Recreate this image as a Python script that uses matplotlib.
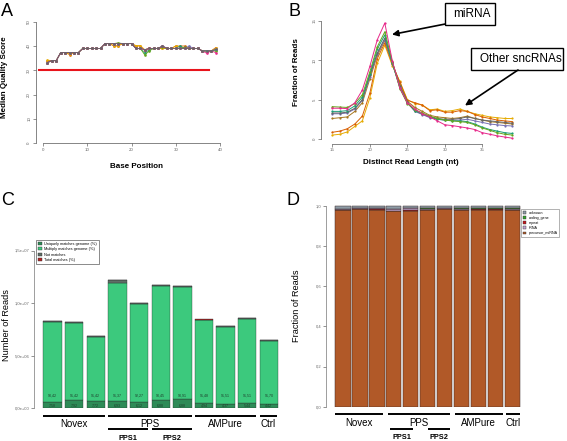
import matplotlib
matplotlib.use('Agg')
import numpy as np
import matplotlib.pyplot as plt
from matplotlib.patches import Patch, Rectangle, FancyArrowPatch
import matplotlib.transforms as mtrans

plt.rcParams['font.family'] = ['Liberation Sans', 'DejaVu Sans']

# ---------------- data ----------------
# Panel A: median quality score per base position
base_pos = list(range(1, 40))
qa_orange = [34, 34, 34, 37.3, 37.3, 36.5, 37.3, 37.3, 39, 39, 39, 39, 39, 41, 41, 40, 40, 41, 41, 41,
             40, 40, 38, 39, 39, 39, 39, 39, 39, 40, 40, 40, 39, 39, 39, 38, 38, 38, 39.3]
qa_gold = [34.2, 34, 34, 37.3, 37.3, 36.7, 37.3, 37.3, 39, 39, 39, 39, 39, 41, 41, 40.2, 40.2, 41, 41, 41,
           40.2, 40.2, 38.5, 39, 39, 39, 39, 39, 39, 40, 39.5, 39, 39, 39, 39, 38, 38, 38, 39]
qa_green = [33.2, 34, 34, 37.3, 37.3, 37.3, 37.3, 37.3, 39, 39, 39, 39, 39, 41, 41, 41, 41.3, 41, 41, 41,
            39, 39, 36.3, 38, 39, 39, 39.5, 39, 39, 39, 39, 39.5, 39, 39, 39, 38, 38, 38, 38]
qa_teal = [33.2, 34, 34, 37.3, 37.3, 37.3, 37.3, 37.3, 39, 39, 39, 39, 39, 41, 41, 41, 41, 41, 41, 41,
           39, 39, 37, 38.5, 39, 39, 40, 39, 39, 39, 40, 39, 39, 39, 39, 38, 38, 38, 38.3]
qa_pink = [33.2, 34, 34, 37.3, 37.3, 37.3, 37.3, 37.3, 39, 39, 39, 39, 39, 41, 41, 41, 41, 41, 41, 41,
           39, 39, 38.5, 39, 39, 39, 40, 39, 39, 39, 39, 39, 39, 39, 39, 38, 37, 38, 37.3]
qa_purple = [33.2, 34, 34, 37.3, 37.3, 37.3, 37.3, 37.3, 39, 39, 39, 39, 39, 41, 41, 41, 41, 41, 41, 41,
             39, 39, 38.5, 39, 39, 39, 40, 39, 39, 39, 39, 39, 40, 39, 39, 38, 38, 38, 38.6]
qa_gray = [33.2, 34, 34, 37.3, 37.3, 37.3, 37.3, 37.3, 39, 39, 39, 39, 39, 41, 41, 41, 41, 41, 41, 41,
           39, 39, 38.5, 39, 39, 39, 40, 39, 39, 39, 39, 39, 39, 39, 39, 38, 38, 38, 38.6]
qa_threshold = 30

# Panel B: read length distribution (percent of reads)
read_len = list(range(15, 40))
rl_pink = [3.9, 3.9, 3.85, 4.6, 6.2, 9.2, 12.6, 14.7, 9.9, 6.5, 4.6, 3.8, 3.2, 2.8, 2.3, 1.8, 1.7, 1.55, 1.4, 1.2, 0.8, 0.6, 0.4, 0.25, 0.1]
rl_green = [4.1, 4.05, 4.0, 4.5, 5.6, 8.5, 11.7, 13.6, 9.8, 6.4, 4.5, 3.7, 3.3, 2.9, 2.6, 2.4, 2.3, 2.2, 2.1, 1.8, 1.4, 1.1, 0.8, 0.6, 0.5]
rl_teal = [3.5, 3.5, 3.6, 4.2, 5.3, 8.2, 11.4, 13.2, 9.6, 6.5, 4.6, 3.6, 3.2, 2.8, 2.5, 2.4, 2.3, 2.3, 2.2, 1.9, 1.5, 1.2, 1.0, 0.8, 0.7]
rl_gray = [3.3, 3.3, 3.4, 3.9, 5.0, 8.1, 10.9, 12.8, 9.7, 6.7, 4.7, 3.6, 3.2, 2.8, 2.6, 2.5, 2.5, 2.6, 2.8, 2.6, 2.4, 2.3, 2.2, 2.1, 2.0]
rl_purple = [3.2, 3.2, 3.3, 3.8, 4.9, 7.9, 10.8, 12.6, 9.6, 6.6, 4.6, 3.5, 3.1, 2.7, 2.5, 2.4, 2.4, 2.4, 2.5, 2.3, 2.1, 1.9, 1.8, 1.7, 1.65]
rl_brown = [2.6, 2.7, 2.8, 3.5, 4.6, 7.6, 10.6, 12.5, 9.7, 6.9, 4.8, 4.0, 3.5, 3.0, 2.8, 2.7, 2.6, 2.7, 2.9, 2.6, 2.4, 2.2, 2.1, 2.0, 1.9]
rl_orange = [0.85, 1.0, 1.3, 1.9, 2.9, 5.8, 10.2, 12.2, 9.5, 7.2, 4.9, 4.6, 4.3, 3.6, 3.7, 3.4, 3.4, 3.6, 3.5, 3.1, 2.8, 2.6, 2.4, 2.3, 2.2]
rl_gold = [0.5, 0.6, 0.9, 1.6, 2.3, 5.2, 9.6, 11.9, 9.3, 7.3, 5.0, 4.5, 4.3, 3.7, 3.8, 3.5, 3.6, 3.8, 3.5, 3.2, 3.0, 2.8, 2.7, 2.6, 2.6]

# Panel C: number of reads per sample
samples = list(range(11))
c_unique = [0.63e6, 0.80e6, 0.66e6, 0.73e6, 0.60e6, 0.80e6, 0.86e6, 0.54e6, 0.41e6, 0.50e6, 0.41e6]
c_multi = [7.53e6, 7.32e6, 6.16e6, 11.15e6, 9.28e6, 10.81e6, 10.67e6, 7.82e6, 7.35e6, 7.99e6, 5.99e6]
c_nomatch = [0.16e6, 0.10e6, 0.08e6, 0.32e6, 0.12e6, 0.14e6, 0.12e6, 0.08e6, 0.08e6, 0.08e6, 0.10e6]
c_total = [0.004e6] * 11
c_pct_multi = ["90,42", "91,42", "91,42", "91,37", "92,27", "90,45", "90,91", "91,48", "91,51", "91,51", "91,70"]
c_pct_unique = ["7,58", "7,92", "7,72", "6,93", "6,12", "6,88", "6,88", "4,94", "4,37", "5,44", "4,42"]
c_legend = ["Uniquely matches genome (%)", "Multiply matches genome (%)", "Not matches", "Total matches (%)"]
c_yticks = [0, 5e6, 1e7, 1.5e7]
c_yticklabels = ["0,0e+00", "5,0e+06", "1,0e+07", "1,5e+07"]

# Panel D: fraction of reads per RNA class
d_precursor = [0.978, 0.982, 0.981, 0.972, 0.975, 0.979, 0.982, 0.979, 0.980, 0.980, 0.979]
d_rrna = [0.004, 0.003, 0.004, 0.010, 0.011, 0.004, 0.003, 0.004, 0.004, 0.004, 0.004]
d_repeat = [0.002, 0.002, 0.002, 0.002, 0.002, 0.002, 0.002, 0.002, 0.002, 0.002, 0.002]
d_coding = [0.002, 0.002, 0.002, 0.002, 0.002, 0.002, 0.002, 0.002, 0.002, 0.002, 0.002]
d_unknown = [0.014, 0.011, 0.011, 0.014, 0.010, 0.013, 0.011, 0.013, 0.012, 0.012, 0.013]
d_legend = ["unknown", "coding_gene", "repeat", "rRNA", "precursor_miRNA"]
d_yticks = [0, 0.2, 0.4, 0.6, 0.8, 1.0]
d_yticklabels = ["0,0", "0,2", "0,4", "0,6", "0,8", "1,0"]

groups_top = ["Novex", "PPS", "AMPure", "Ctrl"]
groups_sub = ["PPS1", "PPS2"]

# ---------------- layout helpers ----------------
W, H = 567, 441
fig = plt.figure(figsize=(W / 100, H / 100), dpi=100)


def add_ax(x0, y0, x1, y1):
    return fig.add_axes([x0 / W, 1 - y1 / H, (x1 - x0) / W, (y1 - y0) / H])


def fp(x, y):
    return (x / W, 1 - y / H)


def style_axis(ax):
    for s in ['top', 'right']:
        ax.spines[s].set_visible(False)
    for s in ['left', 'bottom']:
        ax.spines[s].set_linewidth(0.5)
        ax.spines[s].set_color('#555555')
    ax.tick_params(length=2, width=0.5, colors='#666666', labelsize=3.2, pad=1.2)


DARK2 = {'teal': '#1B9E77', 'orange': '#D95F02', 'purple': '#7570B3', 'pink': '#E7298A',
         'green': '#66A61E', 'gold': '#E6AB02', 'brown': '#A6761D', 'gray': '#666666'}

# ---------------- Panel A ----------------
axA = add_ax(35.7, 20, 222, 143.3)
style_axis(axA)
axA.plot([-0.8, 37.5], [qa_threshold, qa_threshold], color='#E8141C', lw=1.5, zorder=1)
for vals, c in [(qa_orange, 'orange'), (qa_gold, 'gold'), (qa_teal, 'teal'), (qa_green, 'green'),
                (qa_purple, 'purple'), (qa_pink, 'pink'), (qa_gray, 'gray')]:
    axA.plot(base_pos, vals, color=DARK2[c], lw=0.6, marker='o', ms=1.9, mew=0, clip_on=False, zorder=2)
axA.set_xlim(-1.65, 40.45)
axA.set_ylim(0, 50.7)
axA.spines['left'].set_bounds(0, 50)
axA.spines['bottom'].set_bounds(0, 40)
axA.set_xticks([0, 10, 20, 30, 40])
axA.set_yticks([0, 10, 20, 30, 40, 50])
axA.tick_params(axis='y', labelrotation=90)
for lab in axA.get_yticklabels():
    lab.set_va('center')
fig.text(*fp(136.7, 166), "Base Position", ha='center', va='center', fontsize=5.8, fontweight='bold')
fig.text(*fp(5, 77), "Median Quality Score", ha='center', va='center', fontsize=5.8,
         fontweight='bold', rotation=90)
fig.text(*fp(1, 3), "A", ha='left', va='top', fontsize=13)

# ---------------- Panel B ----------------
axB = add_ax(321, 18, 515, 144)
style_axis(axB)
for vals, c in [(rl_gold, 'gold'), (rl_orange, 'orange'), (rl_brown, 'brown'), (rl_purple, 'purple'),
                (rl_gray, 'gray'), (rl_teal, 'teal'), (rl_green, 'green'), (rl_pink, 'pink')]:
    axB.plot(read_len, vals, color=DARK2[c], lw=0.7, marker='o', ms=1.6, mew=0, clip_on=False)
axB.set_xlim(13.49, 39.36)
axB.set_ylim(-0.634, 15.34)
axB.spines['left'].set_bounds(0, 15)
axB.spines['bottom'].set_bounds(15, 35)
axB.set_xticks([15, 20, 25, 30, 35])
axB.set_yticks([0, 5, 10, 15])
axB.tick_params(axis='y', labelrotation=90)
for lab in axB.get_yticklabels():
    lab.set_va('center')
fig.text(*fp(411, 163), "Distinct Read Length (nt)", ha='center', va='center', fontsize=5.8, fontweight='bold')
fig.text(*fp(296.3, 71.7), "Fraction of Reads", ha='center', va='center', fontsize=5.8,
         fontweight='bold', rotation=90)
fig.text(*fp(288, 3), "B", ha='left', va='top', fontsize=13)

# annotation boxes + arrows
for (x0, y0, x1, y1, txt, tx) in [(444.7, 3, 495.3, 25, "miRNA", 471.5),
                                   (470.7, 48.3, 563, 70, "Other sncRNAs", 520.5)]:
    fig.add_artist(Rectangle(fp(x0, y1), (x1 - x0) / W, (y1 - y0) / H, transform=fig.transFigure,
                             facecolor='white', edgecolor='black', lw=1.0))
    fig.text(*fp(tx, (y0 + y1) / 2), txt, ha='center', va='center', fontsize=8.5)
for (pa, pb) in [((445.3, 24), (392, 34.5)), ((518, 70), (465, 105.5))]:
    fig.add_artist(FancyArrowPatch(fp(*pa), fp(*pb), transform=fig.transFigure,
                                   arrowstyle='-|>', mutation_scale=9, lw=1.2, color='black',
                                   shrinkA=0, shrinkB=0))


def draw_groups(ax, spans, sub_spans, y_line1, y_text1, y_line2, y_text2):
    tr = mtrans.blended_transform_factory(ax.transData, fig.transFigure)
    for (a, b), name in zip(spans, groups_top):
        ax.plot([a, b], [1 - y_line1 / H] * 2, transform=tr, color='black', lw=1.4,
                clip_on=False, solid_capstyle='butt')
        ax.text((a + b) / 2, 1 - y_text1 / H, name, transform=tr, ha='center', va='center', fontsize=7)
    for (a, b), name in zip(sub_spans, groups_sub):
        ax.plot([a, b], [1 - y_line2 / H] * 2, transform=tr, color='black', lw=1.4,
                clip_on=False, solid_capstyle='butt')
        ax.text((a + b) / 2, 1 - y_text2 / H, name, transform=tr, ha='center', va='center',
                fontsize=5.3, fontweight='bold')


# ---------------- Panel C ----------------
axC = add_ax(34, 238, 280, 408.3)
for s in ['top', 'right', 'bottom']:
    axC.spines[s].set_visible(False)
axC.spines['left'].set_linewidth(0.5)
axC.spines['left'].set_color('#777777')
axC.spines['left'].set_bounds(0, 1.5e7)
c_colors = ['#2E8B57', '#3CC97D', '#5E6E66', '#B22222']
bottom = np.zeros(len(samples))
for vals, col in zip([c_unique, c_multi, c_nomatch, c_total], c_colors):
    axC.bar(samples, vals, width=0.85, bottom=bottom, color=col, edgecolor='#2a2a2a', lw=0.25)
    bottom = bottom + np.array(vals)
for i in samples:
    axC.text(i, 1.25e6, c_pct_multi[i], ha='center', va='center', fontsize=2.6, color='#1e3d2b')
    axC.text(i, 0.28e6, c_pct_unique[i], ha='center', va='center', fontsize=2.6, color='#1e3d2b')
axC.set_xlim(-0.855, 10.513)
axC.set_ylim(0, 16.19e6)
axC.set_xticks([])
axC.set_yticks(c_yticks)
axC.set_yticklabels(c_yticklabels)
axC.tick_params(axis='y', length=2, width=0.5, colors='#666666', labelsize=3, pad=1.2)
legC = axC.legend([Patch(facecolor=c, edgecolor='#333333', lw=0.3) for c in c_colors], c_legend,
                  loc='upper left', bbox_to_anchor=fp(36, 240), bbox_transform=fig.transFigure,
                  fontsize=2.8, frameon=True, fancybox=False, borderpad=0.5, labelspacing=0.35,
                  handlelength=1.0, handleheight=0.8, handletextpad=0.6, borderaxespad=0)
legC.get_frame().set_edgecolor('#333333')
legC.get_frame().set_linewidth(0.5)
fig.text(*fp(6.5, 325), "Number of Reads", ha='center', va='center', fontsize=6.6, rotation=90)
fig.text(*fp(1, 192), "C", ha='left', va='top', fontsize=13)
draw_groups(axC, [(-0.425, 2.44), (2.58, 6.46), (6.585, 9.40), (9.575, 10.37)],
            [(2.565, 4.41), (4.58, 6.45)], 416, 424, 429, 439)

# ---------------- Panel D ----------------
axD = add_ax(326, 204, 522, 406.7)
for s in ['top', 'right', 'bottom']:
    axD.spines[s].set_visible(False)
axD.spines['left'].set_linewidth(0.5)
axD.spines['left'].set_color('#777777')
axD.spines['left'].set_bounds(0, 1.0)
d_colors = {'precursor_miRNA': '#B15928', 'rRNA': '#C3A6D0', 'repeat': '#C4161C',
            'coding_gene': '#33A02C', 'unknown': '#8E9BA6'}
bottom = np.zeros(len(samples))
for vals, name in [(d_precursor, 'precursor_miRNA'), (d_repeat, 'repeat'), (d_rrna, 'rRNA'),
                   (d_coding, 'coding_gene'), (d_unknown, 'unknown')]:
    axD.bar(samples, vals, width=0.9, bottom=bottom, color=d_colors[name], edgecolor='#3a2a2a', lw=0.35)
    bottom = bottom + np.array(vals)
axD.set_xlim(-1.004, 10.567)
axD.set_ylim(0, 1.0085)
axD.set_xticks([])
axD.set_yticks(d_yticks)
axD.set_yticklabels(d_yticklabels)
axD.tick_params(axis='y', length=2, width=0.5, colors='#666666', labelsize=3, pad=1.2)
legD = axD.legend([Patch(facecolor=d_colors[n], edgecolor='#333333', lw=0.3) for n in d_legend], d_legend,
                  loc='upper left', bbox_to_anchor=fp(521, 209), bbox_transform=fig.transFigure,
                  fontsize=2.6, frameon=True, fancybox=False, borderpad=0.5, labelspacing=0.3,
                  handlelength=1.0, handleheight=0.8, handletextpad=0.6, borderaxespad=0)
legD.get_frame().set_edgecolor('#555555')
legD.get_frame().set_linewidth(0.4)
fig.text(*fp(296.5, 306), "Fraction of Reads", ha='center', va='center', fontsize=6.6, rotation=90)
fig.text(*fp(286, 192), "D", ha='left', va='top', fontsize=13)
draw_groups(axD, [(-0.455, 2.36), (2.64, 6.30), (6.59, 9.45), (9.60, 10.43)],
            [(2.77, 4.13), (5.02, 6.30)], 414, 422.5, 429, 437.5)

fig.savefig('out.png', dpi=100)
